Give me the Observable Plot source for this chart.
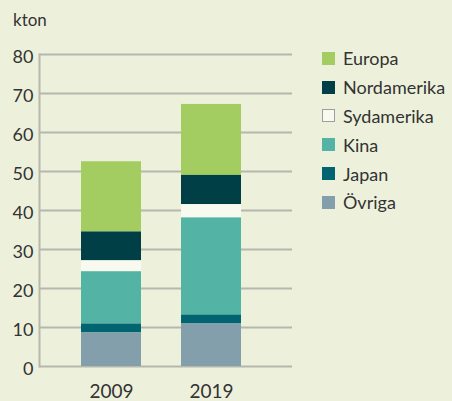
<!DOCTYPE html>
<html>
<head>
<meta charset="utf-8">
<script src="https://cdn.jsdelivr.net/npm/d3@7"></script>
<script src="https://cdn.jsdelivr.net/npm/@observablehq/plot@0.6"></script>
<style>
  html, body { margin: 0; padding: 0; background: #edf1dc; }
  #wrap { position: relative; width: 452px; height: 401px; font-family: Lato, sans-serif; color: #333; }
  #unit { position: absolute; left: 13px; top: 9px; font-size: 17px; }
  #legend { position: absolute; left: 322px; top: 44px; font-size: 18px; }
  .item { height: 28.8px; display: flex; align-items: center; white-space: nowrap; }
  .sw { width: 13px; height: 13px; margin-right: 8px; box-sizing: border-box; }
</style>
</head>
<body>
<div id="wrap">
  <div id="chart"></div>
  <div id="unit">kton</div>
  <div id="legend"></div>
</div>
<script>
const years = ["2009", "2019"];
const series = ["Europa", "Nordamerika", "Sydamerika", "Kina", "Japan", "Övriga"];
const colors = ["#a3cd61", "#003f46", "#f8faf0", "#53b4a5", "#006570", "#839fab"];
const europa = [18.0, 18.2];
const nordamerika = [7.4, 7.5];
const sydamerika = [2.8, 3.4];
const kina = [13.4, 24.9];
const japan = [2.3, 2.3];
const ovriga = [8.6, 10.9];
const yTicks = [0, 10, 20, 30, 40, 50, 60, 70, 80];

const valuesBySeries = [europa, nordamerika, sydamerika, kina, japan, ovriga];
const data = [];
series.forEach((s, i) => years.forEach((y, j) => data.push({year: y, series: s, value: valuesBySeries[i][j]})));
const stackOrder = series.slice().reverse();

const chart = Plot.plot({
  width: 452,
  height: 401,
  marginTop: 54,
  marginBottom: 35,
  marginLeft: 39,
  marginRight: 160,
  style: {background: "transparent", fontFamily: "Lato, sans-serif", color: "#333"},
  x: {type: "band", domain: years, range: [59.8, 262.2], paddingInner: 0.396, paddingOuter: 0.2, axis: null},
  y: {domain: [0, 80], axis: null},
  color: {domain: series, range: colors},
  marks: [
    Plot.gridY(yTicks, {stroke: "#b6b8ae", strokeOpacity: 1, strokeWidth: 2}),
    Plot.axisY(yTicks, {tickSize: 0, tickPadding: 6, fontSize: 18, fill: "#333", label: null, dy: 3}),
    Plot.axisX(years, {tickSize: 0, tickPadding: 18, fontSize: 19, fill: "#333", label: null, anchor: "bottom"}),
    Plot.barY(data, Plot.stackY({order: stackOrder}, {x: "year", y: "value", fill: "series"})),
    Plot.frame({anchor: "left", stroke: "#b6b8ae", strokeWidth: 2})
  ]
});
document.getElementById("chart").appendChild(chart);

const legend = document.getElementById("legend");
series.forEach((s, i) => {
  const item = document.createElement("div");
  item.className = "item";
  const sw = document.createElement("div");
  sw.className = "sw";
  sw.style.background = colors[i];
  if (s === "Sydamerika") sw.style.border = "1px solid #9aa0a0";
  item.appendChild(sw);
  item.appendChild(document.createTextNode(s));
  legend.appendChild(item);
});
</script>
</body>
</html>
